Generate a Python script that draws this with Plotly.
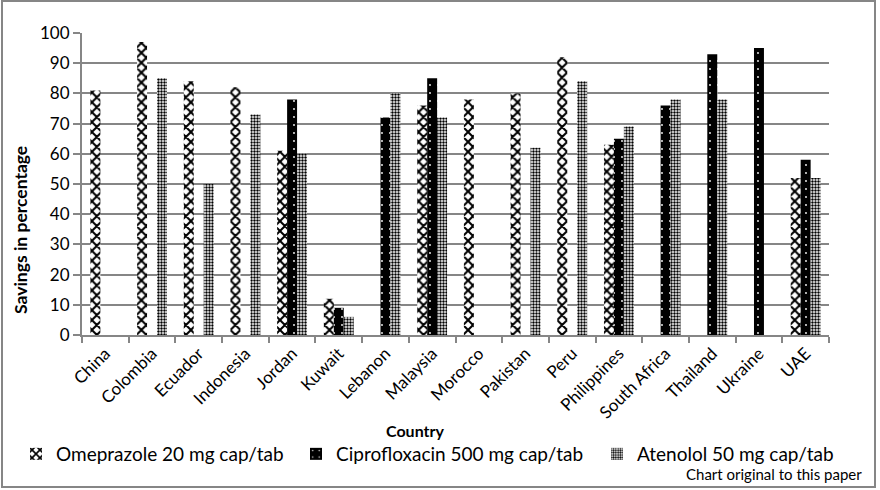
import plotly.graph_objects as go

countries = ["China", "Colombia", "Ecuador", "Indonesia", "Jordan", "Kuwait", "Lebanon",
             "Malaysia", "Morocco", "Pakistan", "Peru", "Philippines", "South Africa",
             "Thailand", "Ukraine", "UAE"]
omeprazole = [81, 97, 84, 82, 61, 12, None, 76, 78, 80, 92, 63, None, None, None, 52]
ciprofloxacin = [None, None, None, None, 78, 9, 72, 85, None, None, None, 65, 76, 93, 95, 58]
atenolol = [None, 85, 50, 73, 60, 6, 80, 72, None, 62, 84, 69, 78, 78, None, 52]
y_ticks = list(range(0, 101, 10))

FONT = "Lato, sans-serif"
GRID = "#868686"

W, H = 880, 490
ML, MR, MT, MB = 82, 51, 33, 155
PW, PH = W - ML - MR, H - MT - MB


def px(xp):
    return (xp - ML) / PW


def py(yp):
    return (MT + PH - yp) / PH


fig = go.Figure()
fig.add_trace(go.Bar(
    name="Omeprazole 20 mg cap/tab", x=countries, y=omeprazole, legend="legend",
    marker=dict(color="white", line=dict(width=0),
                pattern=dict(shape="x", fgcolor="black", bgcolor="white", size=7,
                             solidity=0.5, fgopacity=1)),
))
fig.add_trace(go.Bar(
    name="Ciprofloxacin 500 mg cap/tab", x=countries, y=ciprofloxacin, legend="legend2",
    marker=dict(color="black", line=dict(width=0),
                pattern=dict(shape=".", fgcolor="white", bgcolor="black", size=8,
                             solidity=0.04, fgopacity=1)),
))
fig.add_trace(go.Bar(
    name="Atenolol 50 mg cap/tab", x=countries, y=atenolol, legend="legend3",
    marker=dict(color="white", line=dict(width=0),
                pattern=dict(shape=".", fgcolor="black", bgcolor="white", size=3,
                             solidity=0.5, fgopacity=1)),
))

leg = dict(orientation="h", xanchor="left", y=py(454), yanchor="middle",
           font=dict(size=19), bgcolor="rgba(0,0,0,0)", borderwidth=0)

fig.update_layout(
    width=W, height=H,
    margin=dict(l=ML, r=MR, t=MT, b=MB),
    paper_bgcolor="white", plot_bgcolor="white",
    barmode="group", bargap=0.36, bargroupgap=0,
    font=dict(family=FONT, size=16, color="black"),
    showlegend=True,
    legend=dict(leg, x=px(16)),
    legend2=dict(leg, x=px(296)),
    legend3=dict(leg, x=px(597)),
    xaxis=dict(type="category", tickangle=-45, showgrid=False,
               showline=True, linecolor=GRID, linewidth=2,
               ticks="outside", tickson="boundaries", ticklen=6, tickcolor=GRID, tickwidth=2,
               tickfont=dict(size=17), automargin=False),
    yaxis=dict(range=[0, 100], tickvals=y_ticks, showgrid=True, gridcolor=GRID, gridwidth=2,
               showline=True, linecolor=GRID, linewidth=2, zeroline=False,
               ticks="outside", ticklen=7, tickcolor=GRID, tickwidth=2,
               tickfont=dict(size=17), automargin=False),
    annotations=[
        dict(text="<b>Savings in percentage</b>", xref="paper", yref="paper",
             x=px(20), y=py(230), xanchor="center", yanchor="middle", textangle=-90,
             showarrow=False, font=dict(size=17.5)),
        dict(text="<b>Country</b>", xref="paper", yref="paper",
             x=px(415), y=py(430), xanchor="center", yanchor="middle",
             showarrow=False, font=dict(size=16)),
        dict(text="Chart original to this paper", xref="paper", yref="paper",
             x=px(864), y=py(474), xanchor="right", yanchor="middle",
             showarrow=False, font=dict(size=15)),
    ],
    shapes=[
        dict(type="rect", xref="paper", yref="paper",
             x0=px(2), x1=px(875), y0=py(487), y1=py(1),
             line=dict(color=GRID, width=2), fillcolor="rgba(0,0,0,0)", layer="below"),
    ],
)

fig.write_html("out.html", config={"displayModeBar": False},
               post_script="document.body.style.margin='0';")
